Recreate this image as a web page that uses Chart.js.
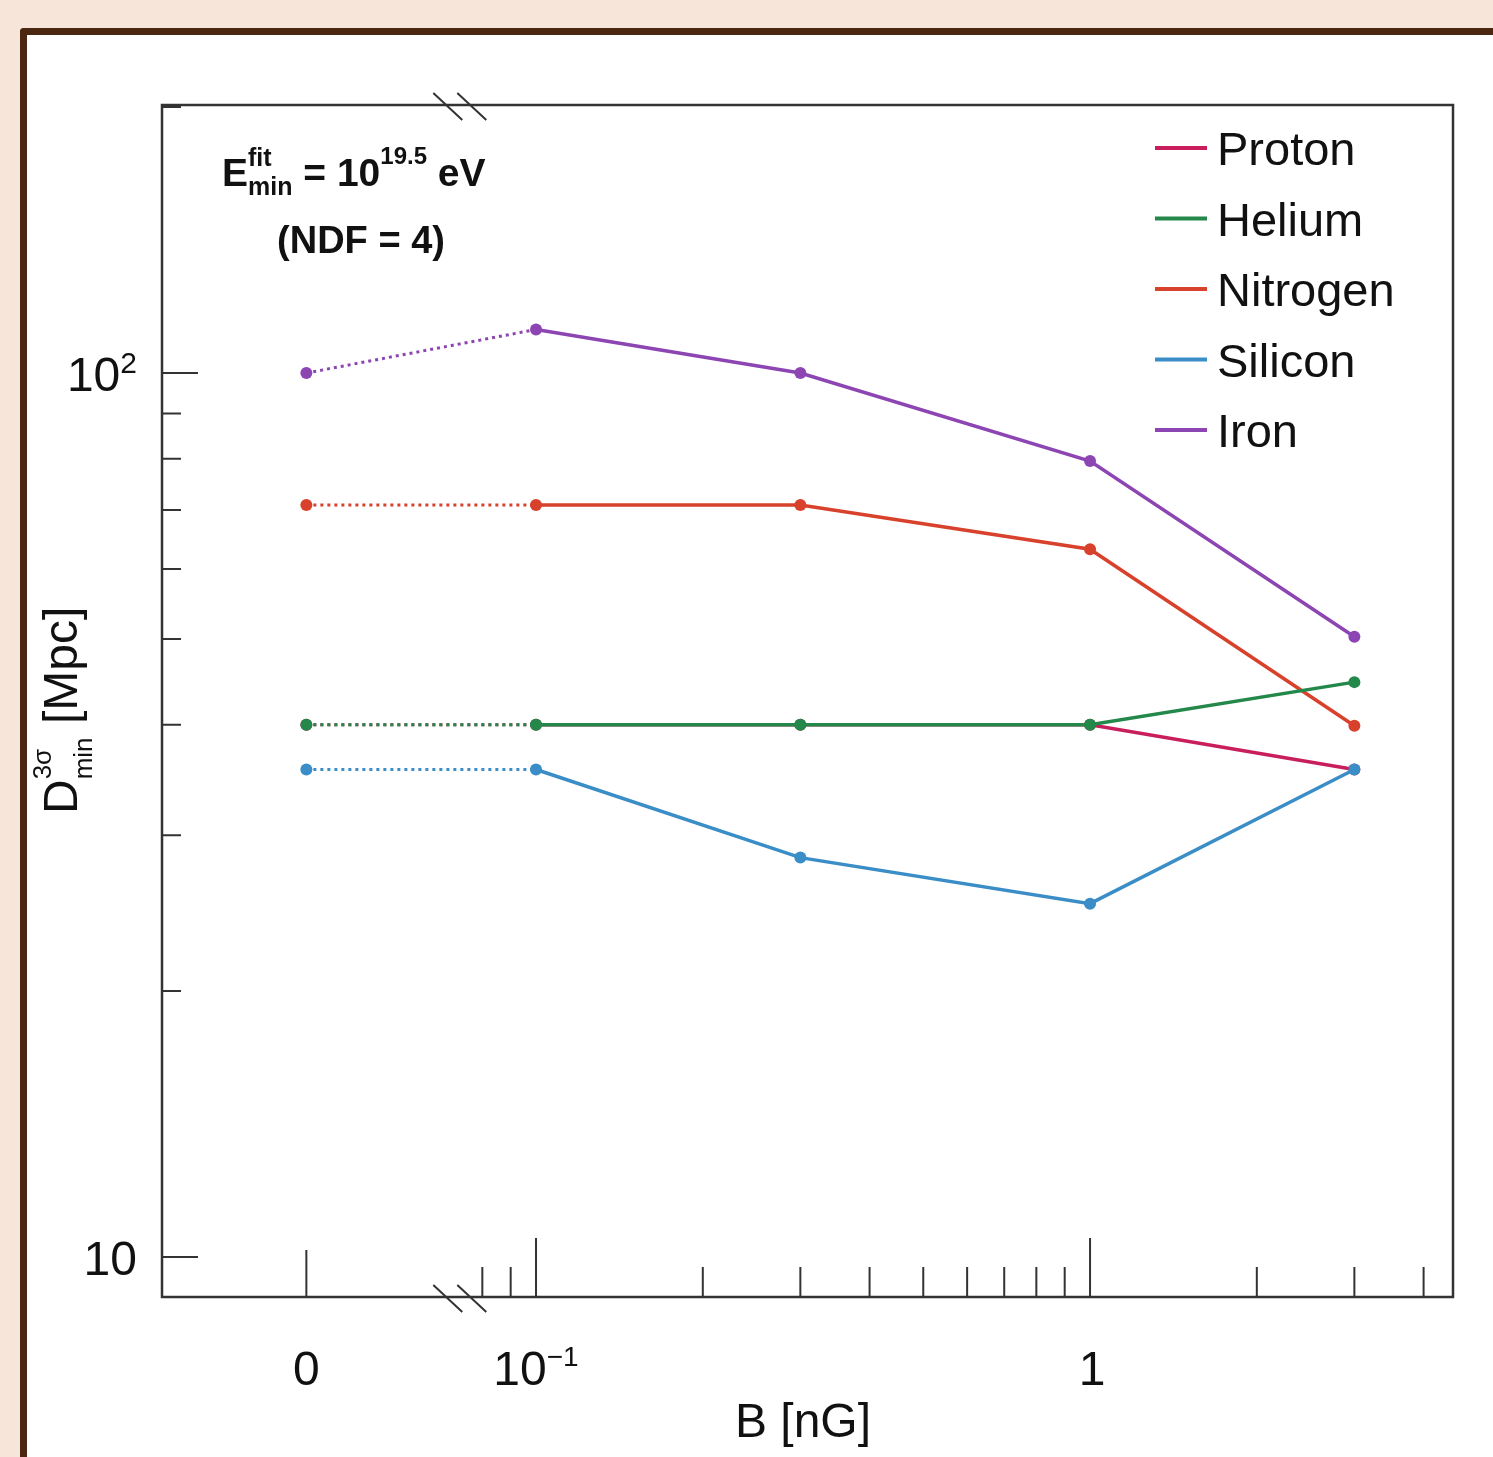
<!DOCTYPE html>
<html>
<head>
<meta charset="utf-8">
<script src="https://cdn.jsdelivr.net/npm/chart.js@4.4.1/dist/chart.umd.min.js"></script>
<style>
html,body{margin:0;padding:0;background:#f8e5da;overflow:hidden;}
#frame{position:absolute;left:20px;top:28px;width:1520px;height:1480px;border-left:7px solid #4b2712;border-top:7px solid #4b2712;background:#fff;border-top-left-radius:4px;}
#chart{position:absolute;left:0;top:0;}
</style>
</head>
<body>
<div id="frame"></div>
<canvas id="chart" width="1493" height="1457"></canvas>
<script>
// B field values [nG], 0 is drawn left of the axis break
const fieldB = [0, 0.1, 0.3, 1, 3];
const seriesNames = ['Proton', 'Helium', 'Nitrogen', 'Silicon', 'Iron'];
const proton   = [40, 40, 40, 40, 35.6];
const helium   = [40, 40, 40, 40, 44.7];
const nitrogen = [70.9, 70.9, 70.9, 63.2, 39.9];
const silicon  = [35.6, 35.6, 28.3, 25.1, 35.6];
const iron     = [100, 112, 100, 79.5, 50.3];
const seriesColors = ['#c81f5c', '#23884a', '#d8412b', '#3a8dc6', '#8c45b2'];
const drawOrder = [5, 2, 3, 1, 4];

const xMajorTicks = [0.1, 1];
const xMinorTicks = [0.08, 0.09, 0.2, 0.3, 0.4, 0.5, 0.6, 0.7, 0.8, 0.9, 2, 3, 4];
const yMajorTicks = [10, 100];
const yMinorTicks = [20, 30, 40, 50, 60, 70, 80, 90, 200];

const ZERO_POS = 0.0385;   // where B = 0 sits on the log axis
const BREAK_POS = 0.073;   // axis break marks
const FONT = "'Liberation Sans', Arial, Helvetica, sans-serif";

const allSeries = [proton, helium, nitrogen, silicon, iron];

const datasets = allSeries.map((vals, i) => ({
    label: seriesNames[i],
    data: vals.map((v, j) => ({ x: fieldB[j] === 0 ? ZERO_POS : fieldB[j], y: v })),
    borderColor: seriesColors[i],
    backgroundColor: seriesColors[i],
    borderWidth: 3.5,
    pointRadius: 6,
    pointBorderWidth: 0,
    tension: 0,
    order: drawOrder[i],
    segment: {
        borderDash: c => c.p0DataIndex === 0 ? [3, 4] : undefined,
        borderWidth: c => c.p0DataIndex === 0 ? 3 : undefined
    }
}));

// text made of runs: [text, size, dy, bold, noAdvance]
function rich(ctx, runs, x, y, align) {
    let w = 0;
    runs.forEach(r => {
        ctx.font = (r[3] ? 'bold ' : '') + r[1] + 'px ' + FONT;
        r.w = ctx.measureText(r[0]).width;
        if (!r[4]) w += r.w;
    });
    let cx = align === 'center' ? x - w / 2 : align === 'right' ? x - w : x;
    ctx.textAlign = 'left';
    ctx.textBaseline = 'alphabetic';
    runs.forEach(r => {
        ctx.font = (r[3] ? 'bold ' : '') + r[1] + 'px ' + FONT;
        ctx.fillText(r[0], cx, y + (r[2] || 0));
        if (!r[4]) cx += r.w;
    });
}

const decor = {
    id: 'decor',
    afterDraw(chart) {
        const { ctx, chartArea: a, scales: { x, y } } = chart;
        ctx.save();
        ctx.strokeStyle = '#333';
        ctx.fillStyle = '#111';

        // ticks
        ctx.lineWidth = 2;
        ctx.beginPath();
        xMajorTicks.forEach(v => { const px = x.getPixelForValue(v); ctx.moveTo(px, a.bottom); ctx.lineTo(px, a.bottom - 59); });
        xMinorTicks.forEach(v => { const px = x.getPixelForValue(v); ctx.moveTo(px, a.bottom); ctx.lineTo(px, a.bottom - 30); });
        const pz = x.getPixelForValue(ZERO_POS);
        ctx.moveTo(pz, a.bottom); ctx.lineTo(pz, a.bottom - 47);
        yMajorTicks.forEach(v => { const py = y.getPixelForValue(v); ctx.moveTo(a.left, py); ctx.lineTo(a.left + 36, py); });
        yMinorTicks.forEach(v => { const py = y.getPixelForValue(v); ctx.moveTo(a.left, py); ctx.lineTo(a.left + 19, py); });
        ctx.stroke();

        // frame
        ctx.lineWidth = 2.5;
        ctx.strokeRect(a.left, a.top, a.right - a.left, a.bottom - a.top);

        // axis breaks
        const bx = x.getPixelForValue(BREAK_POS);
        ctx.lineWidth = 2;
        ctx.beginPath();
        [a.top, a.bottom].forEach(ay => {
            [0, 24].forEach(d => {
                ctx.moveTo(bx - 27 + d, ay - 12);
                ctx.lineTo(bx + 2 + d, ay + 15);
            });
        });
        ctx.stroke();

        // tick labels
        rich(ctx, [['0', 48]], pz, 1385, 'center');
        rich(ctx, [['10', 48], ['\u22121', 28, -19]], x.getPixelForValue(0.1), 1385, 'center');
        rich(ctx, [['1', 48]], x.getPixelForValue(1) + 2, 1385, 'center');
        rich(ctx, [['10', 48], ['2', 30, -18]], 137, y.getPixelForValue(100) + 18, 'right');
        rich(ctx, [['10', 48]], 137, y.getPixelForValue(10) + 18, 'right');

        // axis titles
        rich(ctx, [['B [nG]', 48]], 803, 1437, 'center');
        ctx.save();
        ctx.translate(77, 814);
        ctx.rotate(-Math.PI / 2);
        rich(ctx, [['D', 48], ['3\u03c3', 26, -26, false, true], ['min', 26, 15], [' [Mpc]', 48]], 0, 0, 'left');
        ctx.restore();

        // annotation
        rich(ctx, [['E', 39, 0, true], ['fit', 25, -20, true, true], ['min', 25, 9, true],
                   [' = 10', 39, 0, true], ['19.5', 24, -22, true], [' eV', 39, 0, true]], 222, 186, 'left');
        rich(ctx, [['(NDF = 4)', 38, 0, true]], 361, 253, 'center');

        // legend
        seriesNames.forEach((n, i) => {
            const ly = 148 + i * 70.5;
            ctx.strokeStyle = seriesColors[i];
            ctx.lineWidth = 4;
            ctx.beginPath();
            ctx.moveTo(1155, ly); ctx.lineTo(1207, ly);
            ctx.stroke();
            rich(ctx, [[n, 47]], 1217, ly + 17, 'left');
        });
        ctx.restore();
    }
};

new Chart(document.getElementById('chart'), {
    type: 'line',
    data: { datasets },
    options: {
        responsive: false,
        animation: false,
        layout: { padding: { left: 162, top: 105, right: 40, bottom: 160 } },
        scales: {
            x: { type: 'logarithmic', bounds: 'data', min: 0.02113, max: 4.52, display: false },
            y: { type: 'logarithmic', bounds: 'data', min: 9.01, max: 201, display: false }
        },
        plugins: { legend: { display: false }, tooltip: { enabled: false } }
    },
    plugins: [decor]
});
</script>
</body>
</html>
